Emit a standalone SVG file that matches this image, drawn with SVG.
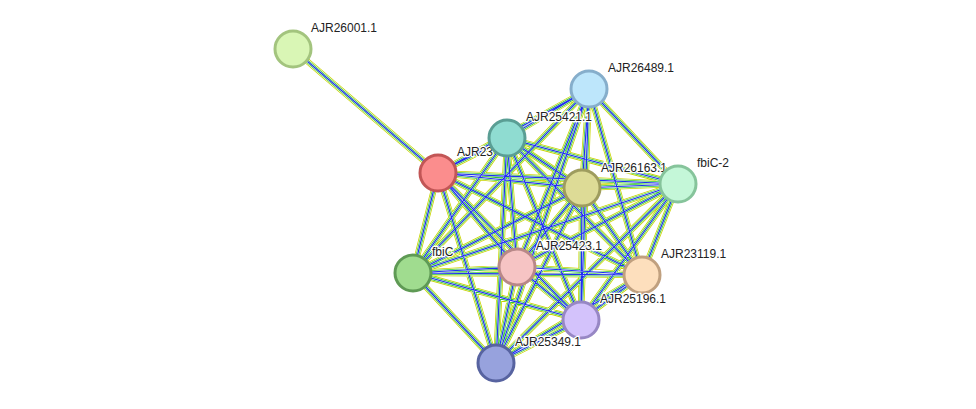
<svg xmlns="http://www.w3.org/2000/svg" width="976" height="409" viewBox="0 0 976 409">
<defs><style>
.e{fill:none}
.y{stroke:#c8d400;stroke-width:6}
.w1{stroke:#fff;stroke-width:4.4}
.g{stroke:#2fc42f;stroke-width:3.4}
.w2{stroke:#fff;stroke-width:1.9}
.b{stroke:#2030f0;stroke-width:1.2}
circle{stroke-width:3}
text{font-family:"Liberation Sans",Arial,sans-serif;font-size:12px;fill:#222;paint-order:stroke;stroke:#fff;stroke-width:2.5px}
</style>
<path id="ed" d="M293 49L438 173 M438 173L507 138 M438 173L589 89 M438 173L582 188 M438 173L678 184 M438 173L413 273 M438 173L517 267 M438 173L642 275 M438 173L581 320 M438 173L496 363 M507 138L589 89 M507 138L582 188 M507 138L678 184 M507 138L413 273 M507 138L517 267 M507 138L642 275 M507 138L581 320 M507 138L496 363 M589 89L582 188 M589 89L678 184 M589 89L413 273 M589 89L517 267 M589 89L642 275 M589 89L581 320 M589 89L496 363 M582 188L678 184 M582 188L413 273 M582 188L517 267 M582 188L642 275 M582 188L581 320 M582 188L496 363 M678 184L413 273 M678 184L517 267 M678 184L642 275 M678 184L581 320 M678 184L496 363 M413 273L517 267 M413 273L642 275 M413 273L581 320 M413 273L496 363 M517 267L642 275 M517 267L581 320 M517 267L496 363 M642 275L581 320 M642 275L496 363 M581 320L496 363"/>
</defs>
<rect width="976" height="409" fill="#fff"/>
<g id="connectors" class="e">
<use href="#ed" class="y"/><use href="#ed" class="w1"/><use href="#ed" class="g"/><use href="#ed" class="w2"/><use href="#ed" class="b"/>
</g>
<g id="n-AJR26001"><circle cx="293" cy="49" r="18" fill="#d9f6b5" stroke="#a3c47e"/><text x="311" y="32">AJR26001.1</text></g>
<g id="n-AJR23"><text x="457" y="156">AJR23</text><circle cx="438" cy="173" r="18" fill="#fb8d8d" stroke="#c25656"/></g>
<g id="n-AJR25421"><circle cx="507" cy="138" r="18" fill="#8fdcd1" stroke="#5a9e94"/><text x="526" y="121">AJR25421.1</text></g>
<g id="n-AJR26489"><circle cx="589" cy="89" r="18" fill="#bde6fb" stroke="#86aecb"/><text x="608" y="72">AJR26489.1</text></g>
<g id="n-AJR26163"><circle cx="582" cy="188" r="18" fill="#dddb96" stroke="#9e9c5e"/><text x="601" y="172">AJR26163.1</text></g>
<g id="n-fbiC-2"><circle cx="678" cy="184" r="18" fill="#c4f7d8" stroke="#86c49b"/><text x="697" y="167">fbiC-2</text></g>
<g id="n-fbiC"><circle cx="413" cy="273" r="18" fill="#a0dc8f" stroke="#5f9a55"/><text x="432" y="256">fbiC</text></g>
<g id="n-AJR25423"><circle cx="517" cy="267" r="18" fill="#f6c4c4" stroke="#b88888"/><text x="536" y="250">AJR25423.1</text></g>
<g id="n-AJR23119"><circle cx="642" cy="275" r="18" fill="#fddfbd" stroke="#c0a07f"/><text x="661" y="258">AJR23119.1</text></g>
<g id="n-AJR25196"><circle cx="581" cy="320" r="18" fill="#d3c2fb" stroke="#9787c4"/><text x="600" y="303">AJR25196.1</text></g>
<g id="n-AJR25349"><circle cx="496" cy="363" r="18" fill="#97a2dd" stroke="#5763a0"/><text x="515" y="346">AJR25349.1</text></g>
</svg>
